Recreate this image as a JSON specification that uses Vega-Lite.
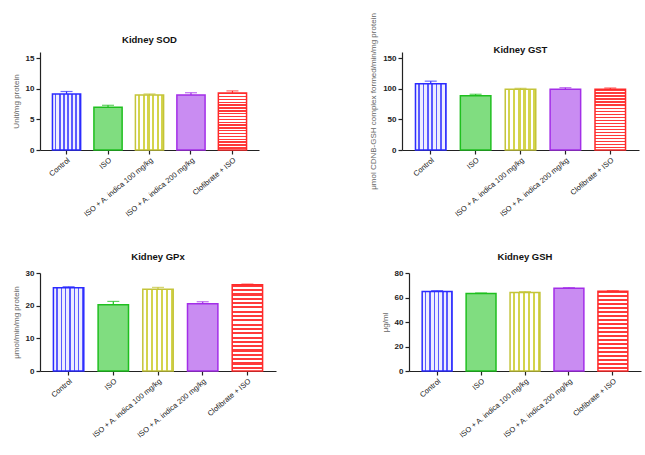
{
  "$schema": "https://vega.github.io/schema/vega-lite/v6.json",
  "padding": {"left": 12, "top": 12, "right": 2, "bottom": 2},
  "background": "white",
  "data": {"values": [
    {"assay": "SOD", "group": "Control", "mean": 9.15, "upper": 9.55},
    {"assay": "SOD", "group": "ISO", "mean": 7.0, "upper": 7.3},
    {"assay": "SOD", "group": "ISO + A. indica 100 mg/kg", "mean": 9.0, "upper": 9.15},
    {"assay": "SOD", "group": "ISO + A. indica 200 mg/kg", "mean": 9.0, "upper": 9.35},
    {"assay": "SOD", "group": "Clofibrate + ISO", "mean": 9.3, "upper": 9.65},
    {"assay": "GST", "group": "Control", "mean": 108.3, "upper": 112.4},
    {"assay": "GST", "group": "ISO", "mean": 88.5, "upper": 91.0},
    {"assay": "GST", "group": "ISO + A. indica 100 mg/kg", "mean": 99.1, "upper": 100.7},
    {"assay": "GST", "group": "ISO + A. indica 200 mg/kg", "mean": 99.1, "upper": 101.7},
    {"assay": "GST", "group": "Clofibrate + ISO", "mean": 99.1, "upper": 101.2},
    {"assay": "GPx", "group": "Control", "mean": 25.5, "upper": 25.8},
    {"assay": "GPx", "group": "ISO", "mean": 20.3, "upper": 21.3},
    {"assay": "GPx", "group": "ISO + A. indica 100 mg/kg", "mean": 25.0, "upper": 25.6},
    {"assay": "GPx", "group": "ISO + A. indica 200 mg/kg", "mean": 20.6, "upper": 21.2},
    {"assay": "GPx", "group": "Clofibrate + ISO", "mean": 26.4, "upper": 26.6},
    {"assay": "GSH", "group": "Control", "mean": 64.8, "upper": 65.6},
    {"assay": "GSH", "group": "ISO", "mean": 63.2, "upper": 63.7},
    {"assay": "GSH", "group": "ISO + A. indica 100 mg/kg", "mean": 64.0, "upper": 64.8},
    {"assay": "GSH", "group": "ISO + A. indica 200 mg/kg", "mean": 67.5, "upper": 68.1},
    {"assay": "GSH", "group": "Clofibrate + ISO", "mean": 65.1, "upper": 65.6}
  ]},
  "config": {
    "view": {"stroke": null},
    "axis": {"domainColor": "#222", "tickColor": "#222", "grid": false, "labelFont": "Liberation Sans", "titleFont": "Liberation Sans", "labelFontSize": 7.5, "labelColor": "#222", "domainWidth": 1.2, "tickWidth": 1.2, "tickSize": 4},
    "axisY": {"labelFontWeight": "bold", "labelFontSize": 8, "titleFontSize": 8, "titleColor": "#666", "titleFontWeight": "normal", "titlePadding": 5, "labelOverlap": false},
    "axisX": {"labelAngle": -40, "labelPadding": 2},
    "title": {"font": "Liberation Sans", "fontSize": 9.5, "fontWeight": "bold", "color": "#111", "offset": 8},
    "scale": {"bandPaddingInner": 0.32, "bandPaddingOuter": 0.3},
    "range": {"category": ["#2b2bff", "#1fbf1f", "#c4c43a", "#a32ee8", "#ff2a2a"]}
  },
  "vconcat": [
    {"hconcat": [
      {
        "title": "Kidney SOD", "width": 219, "height": 98,
        "transform": [{"filter": "datum.assay === 'SOD'"}],
        "encoding": {"x": {"field": "group", "type": "nominal", "title": null, "sort": ["Control", "ISO", "ISO + A. indica 100 mg/kg", "ISO + A. indica 200 mg/kg", "Clofibrate + ISO"]}},
        "layer": [
          {"mark": {"type": "bar", "strokeWidth": 1.5},
           "encoding": {
             "y": {"field": "mean", "type": "quantitative", "scale": {"domain": [0, 15]}, "axis": {"values": [0, 5, 10, 15]}, "title": "Unit/mg protein"},
             "fill": {"condition": [
               {"test": "datum.group === 'Control'", "value": {"gradient": "linear", "x1": 0, "y1": 0, "x2": 1, "y2": 0, "stops": [
                 {"offset": 0, "color": "#eeeeff"}, {"offset": 0.094, "color": "#eeeeff"}, {"offset": 0.094, "color": "#5a5aff"}, {"offset": 0.1429, "color": "#5a5aff"},
                 {"offset": 0.1429, "color": "#eeeeff"}, {"offset": 0.2372, "color": "#eeeeff"}, {"offset": 0.2372, "color": "#5a5aff"}, {"offset": 0.2857, "color": "#5a5aff"},
                 {"offset": 0.2857, "color": "#eeeeff"}, {"offset": 0.38, "color": "#eeeeff"}, {"offset": 0.38, "color": "#5a5aff"}, {"offset": 0.4286, "color": "#5a5aff"},
                 {"offset": 0.4286, "color": "#eeeeff"}, {"offset": 0.5229, "color": "#eeeeff"}, {"offset": 0.5229, "color": "#5a5aff"}, {"offset": 0.5714, "color": "#5a5aff"},
                 {"offset": 0.5714, "color": "#eeeeff"}, {"offset": 0.6657, "color": "#eeeeff"}, {"offset": 0.6657, "color": "#5a5aff"}, {"offset": 0.7143, "color": "#5a5aff"},
                 {"offset": 0.7143, "color": "#eeeeff"}, {"offset": 0.8086, "color": "#eeeeff"}, {"offset": 0.8086, "color": "#5a5aff"}, {"offset": 0.8571, "color": "#5a5aff"},
                 {"offset": 0.8571, "color": "#eeeeff"}, {"offset": 0.9514, "color": "#eeeeff"}, {"offset": 0.9514, "color": "#5a5aff"}, {"offset": 1, "color": "#5a5aff"}]}},
               {"test": "datum.group === 'ISO + A. indica 100 mg/kg'", "value": {"gradient": "linear", "x1": 0, "y1": 0, "x2": 1, "y2": 0, "stops": [
                 {"offset": 0, "color": "#ffffff"}, {"offset": 0.0917, "color": "#ffffff"}, {"offset": 0.0917, "color": "#d4d44c"}, {"offset": 0.1667, "color": "#d4d44c"},
                 {"offset": 0.1667, "color": "#ffffff"}, {"offset": 0.2583, "color": "#ffffff"}, {"offset": 0.2583, "color": "#d4d44c"}, {"offset": 0.3333, "color": "#d4d44c"},
                 {"offset": 0.3333, "color": "#ffffff"}, {"offset": 0.425, "color": "#ffffff"}, {"offset": 0.425, "color": "#d4d44c"}, {"offset": 0.5, "color": "#d4d44c"},
                 {"offset": 0.5, "color": "#ffffff"}, {"offset": 0.5917, "color": "#ffffff"}, {"offset": 0.5917, "color": "#d4d44c"}, {"offset": 0.6667, "color": "#d4d44c"},
                 {"offset": 0.6667, "color": "#ffffff"}, {"offset": 0.7583, "color": "#ffffff"}, {"offset": 0.7583, "color": "#d4d44c"}, {"offset": 0.8333, "color": "#d4d44c"},
                 {"offset": 0.8333, "color": "#ffffff"}, {"offset": 0.925, "color": "#ffffff"}, {"offset": 0.925, "color": "#d4d44c"}, {"offset": 1, "color": "#d4d44c"}]}},
               {"test": "datum.group === 'Clofibrate + ISO'", "value": {"gradient": "linear", "x1": 0, "y1": 0, "x2": 0, "y2": 1, "stops": [
                 {"offset": 0, "color": "#ff3a3a"}, {"offset": 0.025, "color": "#ff3a3a"}, {"offset": 0.025, "color": "#ffffff"}, {"offset": 0.05, "color": "#ffffff"},
                 {"offset": 0.05, "color": "#ff3a3a"}, {"offset": 0.075, "color": "#ff3a3a"}, {"offset": 0.075, "color": "#ffffff"}, {"offset": 0.1, "color": "#ffffff"},
                 {"offset": 0.1, "color": "#ff3a3a"}, {"offset": 0.125, "color": "#ff3a3a"}, {"offset": 0.125, "color": "#ffffff"}, {"offset": 0.15, "color": "#ffffff"},
                 {"offset": 0.15, "color": "#ff3a3a"}, {"offset": 0.175, "color": "#ff3a3a"}, {"offset": 0.175, "color": "#ffffff"}, {"offset": 0.2, "color": "#ffffff"},
                 {"offset": 0.2, "color": "#ff3a3a"}, {"offset": 0.225, "color": "#ff3a3a"}, {"offset": 0.225, "color": "#ffffff"}, {"offset": 0.25, "color": "#ffffff"},
                 {"offset": 0.25, "color": "#ff3a3a"}, {"offset": 0.275, "color": "#ff3a3a"}, {"offset": 0.275, "color": "#ffffff"}, {"offset": 0.3, "color": "#ffffff"},
                 {"offset": 0.3, "color": "#ff3a3a"}, {"offset": 0.325, "color": "#ff3a3a"}, {"offset": 0.325, "color": "#ffffff"}, {"offset": 0.35, "color": "#ffffff"},
                 {"offset": 0.35, "color": "#ff3a3a"}, {"offset": 0.375, "color": "#ff3a3a"}, {"offset": 0.375, "color": "#ffffff"}, {"offset": 0.4, "color": "#ffffff"},
                 {"offset": 0.4, "color": "#ff3a3a"}, {"offset": 0.425, "color": "#ff3a3a"}, {"offset": 0.425, "color": "#ffffff"}, {"offset": 0.45, "color": "#ffffff"},
                 {"offset": 0.45, "color": "#ff3a3a"}, {"offset": 0.475, "color": "#ff3a3a"}, {"offset": 0.475, "color": "#ffffff"}, {"offset": 0.5, "color": "#ffffff"},
                 {"offset": 0.5, "color": "#ff3a3a"}, {"offset": 0.525, "color": "#ff3a3a"}, {"offset": 0.525, "color": "#ffffff"}, {"offset": 0.55, "color": "#ffffff"},
                 {"offset": 0.55, "color": "#ff3a3a"}, {"offset": 0.575, "color": "#ff3a3a"}, {"offset": 0.575, "color": "#ffffff"}, {"offset": 0.6, "color": "#ffffff"},
                 {"offset": 0.6, "color": "#ff3a3a"}, {"offset": 0.625, "color": "#ff3a3a"}, {"offset": 0.625, "color": "#ffffff"}, {"offset": 0.65, "color": "#ffffff"},
                 {"offset": 0.65, "color": "#ff3a3a"}, {"offset": 0.675, "color": "#ff3a3a"}, {"offset": 0.675, "color": "#ffffff"}, {"offset": 0.7, "color": "#ffffff"},
                 {"offset": 0.7, "color": "#ff3a3a"}, {"offset": 0.725, "color": "#ff3a3a"}, {"offset": 0.725, "color": "#ffffff"}, {"offset": 0.75, "color": "#ffffff"},
                 {"offset": 0.75, "color": "#ff3a3a"}, {"offset": 0.775, "color": "#ff3a3a"}, {"offset": 0.775, "color": "#ffffff"}, {"offset": 0.8, "color": "#ffffff"},
                 {"offset": 0.8, "color": "#ff3a3a"}, {"offset": 0.825, "color": "#ff3a3a"}, {"offset": 0.825, "color": "#ffffff"}, {"offset": 0.85, "color": "#ffffff"},
                 {"offset": 0.85, "color": "#ff3a3a"}, {"offset": 0.875, "color": "#ff3a3a"}, {"offset": 0.875, "color": "#ffffff"}, {"offset": 0.9, "color": "#ffffff"},
                 {"offset": 0.9, "color": "#ff3a3a"}, {"offset": 0.925, "color": "#ff3a3a"}, {"offset": 0.925, "color": "#ffffff"}, {"offset": 0.95, "color": "#ffffff"},
                 {"offset": 0.95, "color": "#ff3a3a"}, {"offset": 0.975, "color": "#ff3a3a"}, {"offset": 0.975, "color": "#ffffff"}, {"offset": 1, "color": "#ffffff"}]}},
               {"test": "datum.group === 'ISO'", "value": "#80dd80"}
             ], "value": "#c98cf2"},
             "stroke": {"field": "group", "type": "nominal", "legend": null, "scale": {"domain": ["Control", "ISO", "ISO + A. indica 100 mg/kg", "ISO + A. indica 200 mg/kg", "Clofibrate + ISO"]}}
           }},
          {"mark": {"type": "rule", "strokeWidth": 1.2},
           "encoding": {"y": {"field": "mean", "type": "quantitative", "axis": {"values": [0, 5, 10, 15]}, "title": "Unit/mg protein"}, "y2": {"field": "upper"}, "stroke": {"field": "group", "type": "nominal", "legend": null}}},
          {"mark": {"type": "tick", "size": 12, "thickness": 1.2},
           "encoding": {"y": {"field": "upper", "type": "quantitative", "axis": {"values": [0, 5, 10, 15]}, "title": "Unit/mg protein"}, "color": {"field": "group", "type": "nominal", "legend": null, "scale": {"domain": ["Control", "ISO", "ISO + A. indica 100 mg/kg", "ISO + A. indica 200 mg/kg", "Clofibrate + ISO"]}}}}
        ]
      },
      {
        "title": {"text": "Kidney GST", "offset": -42}, "width": 237, "height": 98,
        "transform": [{"filter": "datum.assay === 'GST'"}],
        "encoding": {"x": {"field": "group", "type": "nominal", "title": null, "sort": ["Control", "ISO", "ISO + A. indica 100 mg/kg", "ISO + A. indica 200 mg/kg", "Clofibrate + ISO"]}},
        "layer": [
          {"mark": {"type": "bar", "strokeWidth": 1.5},
           "encoding": {
             "y": {"field": "mean", "type": "quantitative", "scale": {"domain": [0, 150]}, "axis": {"values": [0, 50, 100, 150]}, "title": "μmol CDNB-GSH complex formed/min/mg protein"},
             "fill": {"condition": [
               {"test": "datum.group === 'Control'", "value": {"gradient": "linear", "x1": 0, "y1": 0, "x2": 1, "y2": 0, "stops": [
                 {"offset": 0, "color": "#eeeeff"}, {"offset": 0.094, "color": "#eeeeff"}, {"offset": 0.094, "color": "#5a5aff"}, {"offset": 0.1429, "color": "#5a5aff"},
                 {"offset": 0.1429, "color": "#eeeeff"}, {"offset": 0.2372, "color": "#eeeeff"}, {"offset": 0.2372, "color": "#5a5aff"}, {"offset": 0.2857, "color": "#5a5aff"},
                 {"offset": 0.2857, "color": "#eeeeff"}, {"offset": 0.38, "color": "#eeeeff"}, {"offset": 0.38, "color": "#5a5aff"}, {"offset": 0.4286, "color": "#5a5aff"},
                 {"offset": 0.4286, "color": "#eeeeff"}, {"offset": 0.5229, "color": "#eeeeff"}, {"offset": 0.5229, "color": "#5a5aff"}, {"offset": 0.5714, "color": "#5a5aff"},
                 {"offset": 0.5714, "color": "#eeeeff"}, {"offset": 0.6657, "color": "#eeeeff"}, {"offset": 0.6657, "color": "#5a5aff"}, {"offset": 0.7143, "color": "#5a5aff"},
                 {"offset": 0.7143, "color": "#eeeeff"}, {"offset": 0.8086, "color": "#eeeeff"}, {"offset": 0.8086, "color": "#5a5aff"}, {"offset": 0.8571, "color": "#5a5aff"},
                 {"offset": 0.8571, "color": "#eeeeff"}, {"offset": 0.9514, "color": "#eeeeff"}, {"offset": 0.9514, "color": "#5a5aff"}, {"offset": 1, "color": "#5a5aff"}]}},
               {"test": "datum.group === 'ISO + A. indica 100 mg/kg'", "value": {"gradient": "linear", "x1": 0, "y1": 0, "x2": 1, "y2": 0, "stops": [
                 {"offset": 0, "color": "#ffffff"}, {"offset": 0.0917, "color": "#ffffff"}, {"offset": 0.0917, "color": "#d4d44c"}, {"offset": 0.1667, "color": "#d4d44c"},
                 {"offset": 0.1667, "color": "#ffffff"}, {"offset": 0.2583, "color": "#ffffff"}, {"offset": 0.2583, "color": "#d4d44c"}, {"offset": 0.3333, "color": "#d4d44c"},
                 {"offset": 0.3333, "color": "#ffffff"}, {"offset": 0.425, "color": "#ffffff"}, {"offset": 0.425, "color": "#d4d44c"}, {"offset": 0.5, "color": "#d4d44c"},
                 {"offset": 0.5, "color": "#ffffff"}, {"offset": 0.5917, "color": "#ffffff"}, {"offset": 0.5917, "color": "#d4d44c"}, {"offset": 0.6667, "color": "#d4d44c"},
                 {"offset": 0.6667, "color": "#ffffff"}, {"offset": 0.7583, "color": "#ffffff"}, {"offset": 0.7583, "color": "#d4d44c"}, {"offset": 0.8333, "color": "#d4d44c"},
                 {"offset": 0.8333, "color": "#ffffff"}, {"offset": 0.925, "color": "#ffffff"}, {"offset": 0.925, "color": "#d4d44c"}, {"offset": 1, "color": "#d4d44c"}]}},
               {"test": "datum.group === 'Clofibrate + ISO'", "value": {"gradient": "linear", "x1": 0, "y1": 0, "x2": 0, "y2": 1, "stops": [
                 {"offset": 0, "color": "#ff3a3a"}, {"offset": 0.025, "color": "#ff3a3a"}, {"offset": 0.025, "color": "#ffffff"}, {"offset": 0.05, "color": "#ffffff"},
                 {"offset": 0.05, "color": "#ff3a3a"}, {"offset": 0.075, "color": "#ff3a3a"}, {"offset": 0.075, "color": "#ffffff"}, {"offset": 0.1, "color": "#ffffff"},
                 {"offset": 0.1, "color": "#ff3a3a"}, {"offset": 0.125, "color": "#ff3a3a"}, {"offset": 0.125, "color": "#ffffff"}, {"offset": 0.15, "color": "#ffffff"},
                 {"offset": 0.15, "color": "#ff3a3a"}, {"offset": 0.175, "color": "#ff3a3a"}, {"offset": 0.175, "color": "#ffffff"}, {"offset": 0.2, "color": "#ffffff"},
                 {"offset": 0.2, "color": "#ff3a3a"}, {"offset": 0.225, "color": "#ff3a3a"}, {"offset": 0.225, "color": "#ffffff"}, {"offset": 0.25, "color": "#ffffff"},
                 {"offset": 0.25, "color": "#ff3a3a"}, {"offset": 0.275, "color": "#ff3a3a"}, {"offset": 0.275, "color": "#ffffff"}, {"offset": 0.3, "color": "#ffffff"},
                 {"offset": 0.3, "color": "#ff3a3a"}, {"offset": 0.325, "color": "#ff3a3a"}, {"offset": 0.325, "color": "#ffffff"}, {"offset": 0.35, "color": "#ffffff"},
                 {"offset": 0.35, "color": "#ff3a3a"}, {"offset": 0.375, "color": "#ff3a3a"}, {"offset": 0.375, "color": "#ffffff"}, {"offset": 0.4, "color": "#ffffff"},
                 {"offset": 0.4, "color": "#ff3a3a"}, {"offset": 0.425, "color": "#ff3a3a"}, {"offset": 0.425, "color": "#ffffff"}, {"offset": 0.45, "color": "#ffffff"},
                 {"offset": 0.45, "color": "#ff3a3a"}, {"offset": 0.475, "color": "#ff3a3a"}, {"offset": 0.475, "color": "#ffffff"}, {"offset": 0.5, "color": "#ffffff"},
                 {"offset": 0.5, "color": "#ff3a3a"}, {"offset": 0.525, "color": "#ff3a3a"}, {"offset": 0.525, "color": "#ffffff"}, {"offset": 0.55, "color": "#ffffff"},
                 {"offset": 0.55, "color": "#ff3a3a"}, {"offset": 0.575, "color": "#ff3a3a"}, {"offset": 0.575, "color": "#ffffff"}, {"offset": 0.6, "color": "#ffffff"},
                 {"offset": 0.6, "color": "#ff3a3a"}, {"offset": 0.625, "color": "#ff3a3a"}, {"offset": 0.625, "color": "#ffffff"}, {"offset": 0.65, "color": "#ffffff"},
                 {"offset": 0.65, "color": "#ff3a3a"}, {"offset": 0.675, "color": "#ff3a3a"}, {"offset": 0.675, "color": "#ffffff"}, {"offset": 0.7, "color": "#ffffff"},
                 {"offset": 0.7, "color": "#ff3a3a"}, {"offset": 0.725, "color": "#ff3a3a"}, {"offset": 0.725, "color": "#ffffff"}, {"offset": 0.75, "color": "#ffffff"},
                 {"offset": 0.75, "color": "#ff3a3a"}, {"offset": 0.775, "color": "#ff3a3a"}, {"offset": 0.775, "color": "#ffffff"}, {"offset": 0.8, "color": "#ffffff"},
                 {"offset": 0.8, "color": "#ff3a3a"}, {"offset": 0.825, "color": "#ff3a3a"}, {"offset": 0.825, "color": "#ffffff"}, {"offset": 0.85, "color": "#ffffff"},
                 {"offset": 0.85, "color": "#ff3a3a"}, {"offset": 0.875, "color": "#ff3a3a"}, {"offset": 0.875, "color": "#ffffff"}, {"offset": 0.9, "color": "#ffffff"},
                 {"offset": 0.9, "color": "#ff3a3a"}, {"offset": 0.925, "color": "#ff3a3a"}, {"offset": 0.925, "color": "#ffffff"}, {"offset": 0.95, "color": "#ffffff"},
                 {"offset": 0.95, "color": "#ff3a3a"}, {"offset": 0.975, "color": "#ff3a3a"}, {"offset": 0.975, "color": "#ffffff"}, {"offset": 1, "color": "#ffffff"}]}},
               {"test": "datum.group === 'ISO'", "value": "#80dd80"}
             ], "value": "#c98cf2"},
             "stroke": {"field": "group", "type": "nominal", "legend": null}
           }},
          {"mark": {"type": "rule", "strokeWidth": 1.2},
           "encoding": {"y": {"field": "mean", "type": "quantitative", "axis": {"values": [0, 50, 100, 150]}, "title": "μmol CDNB-GSH complex formed/min/mg protein"}, "y2": {"field": "upper"}, "stroke": {"field": "group", "type": "nominal", "legend": null}}},
          {"mark": {"type": "tick", "size": 12, "thickness": 1.2},
           "encoding": {"y": {"field": "upper", "type": "quantitative", "axis": {"values": [0, 50, 100, 150]}, "title": "μmol CDNB-GSH complex formed/min/mg protein"}, "color": {"field": "group", "type": "nominal", "legend": null}}}
        ]
      }
    ], "spacing": 110},
    {"hconcat": [
      {
        "title": "Kidney GPx", "width": 236, "height": 98,
        "transform": [{"filter": "datum.assay === 'GPx'"}],
        "encoding": {"x": {"field": "group", "type": "nominal", "title": null, "sort": ["Control", "ISO", "ISO + A. indica 100 mg/kg", "ISO + A. indica 200 mg/kg", "Clofibrate + ISO"]}},
        "layer": [
          {"mark": {"type": "bar", "strokeWidth": 1.5},
           "encoding": {
             "y": {"field": "mean", "type": "quantitative", "scale": {"domain": [0, 30]}, "axis": {"values": [0, 10, 20, 30]}, "title": "μmol/min/mg protein"},
             "fill": {"condition": [
               {"test": "datum.group === 'Control'", "value": {"gradient": "linear", "x1": 0, "y1": 0, "x2": 1, "y2": 0, "stops": [
                 {"offset": 0, "color": "#eeeeff"}, {"offset": 0.094, "color": "#eeeeff"}, {"offset": 0.094, "color": "#5a5aff"}, {"offset": 0.1429, "color": "#5a5aff"},
                 {"offset": 0.1429, "color": "#eeeeff"}, {"offset": 0.2372, "color": "#eeeeff"}, {"offset": 0.2372, "color": "#5a5aff"}, {"offset": 0.2857, "color": "#5a5aff"},
                 {"offset": 0.2857, "color": "#eeeeff"}, {"offset": 0.38, "color": "#eeeeff"}, {"offset": 0.38, "color": "#5a5aff"}, {"offset": 0.4286, "color": "#5a5aff"},
                 {"offset": 0.4286, "color": "#eeeeff"}, {"offset": 0.5229, "color": "#eeeeff"}, {"offset": 0.5229, "color": "#5a5aff"}, {"offset": 0.5714, "color": "#5a5aff"},
                 {"offset": 0.5714, "color": "#eeeeff"}, {"offset": 0.6657, "color": "#eeeeff"}, {"offset": 0.6657, "color": "#5a5aff"}, {"offset": 0.7143, "color": "#5a5aff"},
                 {"offset": 0.7143, "color": "#eeeeff"}, {"offset": 0.8086, "color": "#eeeeff"}, {"offset": 0.8086, "color": "#5a5aff"}, {"offset": 0.8571, "color": "#5a5aff"},
                 {"offset": 0.8571, "color": "#eeeeff"}, {"offset": 0.9514, "color": "#eeeeff"}, {"offset": 0.9514, "color": "#5a5aff"}, {"offset": 1, "color": "#5a5aff"}]}},
               {"test": "datum.group === 'ISO + A. indica 100 mg/kg'", "value": {"gradient": "linear", "x1": 0, "y1": 0, "x2": 1, "y2": 0, "stops": [
                 {"offset": 0, "color": "#ffffff"}, {"offset": 0.0917, "color": "#ffffff"}, {"offset": 0.0917, "color": "#d4d44c"}, {"offset": 0.1667, "color": "#d4d44c"},
                 {"offset": 0.1667, "color": "#ffffff"}, {"offset": 0.2583, "color": "#ffffff"}, {"offset": 0.2583, "color": "#d4d44c"}, {"offset": 0.3333, "color": "#d4d44c"},
                 {"offset": 0.3333, "color": "#ffffff"}, {"offset": 0.425, "color": "#ffffff"}, {"offset": 0.425, "color": "#d4d44c"}, {"offset": 0.5, "color": "#d4d44c"},
                 {"offset": 0.5, "color": "#ffffff"}, {"offset": 0.5917, "color": "#ffffff"}, {"offset": 0.5917, "color": "#d4d44c"}, {"offset": 0.6667, "color": "#d4d44c"},
                 {"offset": 0.6667, "color": "#ffffff"}, {"offset": 0.7583, "color": "#ffffff"}, {"offset": 0.7583, "color": "#d4d44c"}, {"offset": 0.8333, "color": "#d4d44c"},
                 {"offset": 0.8333, "color": "#ffffff"}, {"offset": 0.925, "color": "#ffffff"}, {"offset": 0.925, "color": "#d4d44c"}, {"offset": 1, "color": "#d4d44c"}]}},
               {"test": "datum.group === 'Clofibrate + ISO'", "value": {"gradient": "linear", "x1": 0, "y1": 0, "x2": 0, "y2": 1, "stops": [
                 {"offset": 0, "color": "#ff3a3a"}, {"offset": 0.025, "color": "#ff3a3a"}, {"offset": 0.025, "color": "#ffffff"}, {"offset": 0.05, "color": "#ffffff"},
                 {"offset": 0.05, "color": "#ff3a3a"}, {"offset": 0.075, "color": "#ff3a3a"}, {"offset": 0.075, "color": "#ffffff"}, {"offset": 0.1, "color": "#ffffff"},
                 {"offset": 0.1, "color": "#ff3a3a"}, {"offset": 0.125, "color": "#ff3a3a"}, {"offset": 0.125, "color": "#ffffff"}, {"offset": 0.15, "color": "#ffffff"},
                 {"offset": 0.15, "color": "#ff3a3a"}, {"offset": 0.175, "color": "#ff3a3a"}, {"offset": 0.175, "color": "#ffffff"}, {"offset": 0.2, "color": "#ffffff"},
                 {"offset": 0.2, "color": "#ff3a3a"}, {"offset": 0.225, "color": "#ff3a3a"}, {"offset": 0.225, "color": "#ffffff"}, {"offset": 0.25, "color": "#ffffff"},
                 {"offset": 0.25, "color": "#ff3a3a"}, {"offset": 0.275, "color": "#ff3a3a"}, {"offset": 0.275, "color": "#ffffff"}, {"offset": 0.3, "color": "#ffffff"},
                 {"offset": 0.3, "color": "#ff3a3a"}, {"offset": 0.325, "color": "#ff3a3a"}, {"offset": 0.325, "color": "#ffffff"}, {"offset": 0.35, "color": "#ffffff"},
                 {"offset": 0.35, "color": "#ff3a3a"}, {"offset": 0.375, "color": "#ff3a3a"}, {"offset": 0.375, "color": "#ffffff"}, {"offset": 0.4, "color": "#ffffff"},
                 {"offset": 0.4, "color": "#ff3a3a"}, {"offset": 0.425, "color": "#ff3a3a"}, {"offset": 0.425, "color": "#ffffff"}, {"offset": 0.45, "color": "#ffffff"},
                 {"offset": 0.45, "color": "#ff3a3a"}, {"offset": 0.475, "color": "#ff3a3a"}, {"offset": 0.475, "color": "#ffffff"}, {"offset": 0.5, "color": "#ffffff"},
                 {"offset": 0.5, "color": "#ff3a3a"}, {"offset": 0.525, "color": "#ff3a3a"}, {"offset": 0.525, "color": "#ffffff"}, {"offset": 0.55, "color": "#ffffff"},
                 {"offset": 0.55, "color": "#ff3a3a"}, {"offset": 0.575, "color": "#ff3a3a"}, {"offset": 0.575, "color": "#ffffff"}, {"offset": 0.6, "color": "#ffffff"},
                 {"offset": 0.6, "color": "#ff3a3a"}, {"offset": 0.625, "color": "#ff3a3a"}, {"offset": 0.625, "color": "#ffffff"}, {"offset": 0.65, "color": "#ffffff"},
                 {"offset": 0.65, "color": "#ff3a3a"}, {"offset": 0.675, "color": "#ff3a3a"}, {"offset": 0.675, "color": "#ffffff"}, {"offset": 0.7, "color": "#ffffff"},
                 {"offset": 0.7, "color": "#ff3a3a"}, {"offset": 0.725, "color": "#ff3a3a"}, {"offset": 0.725, "color": "#ffffff"}, {"offset": 0.75, "color": "#ffffff"},
                 {"offset": 0.75, "color": "#ff3a3a"}, {"offset": 0.775, "color": "#ff3a3a"}, {"offset": 0.775, "color": "#ffffff"}, {"offset": 0.8, "color": "#ffffff"},
                 {"offset": 0.8, "color": "#ff3a3a"}, {"offset": 0.825, "color": "#ff3a3a"}, {"offset": 0.825, "color": "#ffffff"}, {"offset": 0.85, "color": "#ffffff"},
                 {"offset": 0.85, "color": "#ff3a3a"}, {"offset": 0.875, "color": "#ff3a3a"}, {"offset": 0.875, "color": "#ffffff"}, {"offset": 0.9, "color": "#ffffff"},
                 {"offset": 0.9, "color": "#ff3a3a"}, {"offset": 0.925, "color": "#ff3a3a"}, {"offset": 0.925, "color": "#ffffff"}, {"offset": 0.95, "color": "#ffffff"},
                 {"offset": 0.95, "color": "#ff3a3a"}, {"offset": 0.975, "color": "#ff3a3a"}, {"offset": 0.975, "color": "#ffffff"}, {"offset": 1, "color": "#ffffff"}]}},
               {"test": "datum.group === 'ISO'", "value": "#80dd80"}
             ], "value": "#c98cf2"},
             "stroke": {"field": "group", "type": "nominal", "legend": null}
           }},
          {"mark": {"type": "rule", "strokeWidth": 1.2},
           "encoding": {"y": {"field": "mean", "type": "quantitative", "axis": {"values": [0, 10, 20, 30]}, "title": "μmol/min/mg protein"}, "y2": {"field": "upper"}, "stroke": {"field": "group", "type": "nominal", "legend": null}}},
          {"mark": {"type": "tick", "size": 12, "thickness": 1.2},
           "encoding": {"y": {"field": "upper", "type": "quantitative", "axis": {"values": [0, 10, 20, 30]}, "title": "μmol/min/mg protein"}, "color": {"field": "group", "type": "nominal", "legend": null}}}
        ]
      },
      {
        "title": "Kidney GSH", "width": 232, "height": 98,
        "transform": [{"filter": "datum.assay === 'GSH'"}],
        "encoding": {"x": {"field": "group", "type": "nominal", "title": null, "sort": ["Control", "ISO", "ISO + A. indica 100 mg/kg", "ISO + A. indica 200 mg/kg", "Clofibrate + ISO"]}},
        "layer": [
          {"mark": {"type": "bar", "strokeWidth": 1.5},
           "encoding": {
             "y": {"field": "mean", "type": "quantitative", "scale": {"domain": [0, 80]}, "axis": {"values": [0, 20, 40, 60, 80]}, "title": "μg/ml"},
             "fill": {"condition": [
               {"test": "datum.group === 'Control'", "value": {"gradient": "linear", "x1": 0, "y1": 0, "x2": 1, "y2": 0, "stops": [
                 {"offset": 0, "color": "#eeeeff"}, {"offset": 0.094, "color": "#eeeeff"}, {"offset": 0.094, "color": "#5a5aff"}, {"offset": 0.1429, "color": "#5a5aff"},
                 {"offset": 0.1429, "color": "#eeeeff"}, {"offset": 0.2372, "color": "#eeeeff"}, {"offset": 0.2372, "color": "#5a5aff"}, {"offset": 0.2857, "color": "#5a5aff"},
                 {"offset": 0.2857, "color": "#eeeeff"}, {"offset": 0.38, "color": "#eeeeff"}, {"offset": 0.38, "color": "#5a5aff"}, {"offset": 0.4286, "color": "#5a5aff"},
                 {"offset": 0.4286, "color": "#eeeeff"}, {"offset": 0.5229, "color": "#eeeeff"}, {"offset": 0.5229, "color": "#5a5aff"}, {"offset": 0.5714, "color": "#5a5aff"},
                 {"offset": 0.5714, "color": "#eeeeff"}, {"offset": 0.6657, "color": "#eeeeff"}, {"offset": 0.6657, "color": "#5a5aff"}, {"offset": 0.7143, "color": "#5a5aff"},
                 {"offset": 0.7143, "color": "#eeeeff"}, {"offset": 0.8086, "color": "#eeeeff"}, {"offset": 0.8086, "color": "#5a5aff"}, {"offset": 0.8571, "color": "#5a5aff"},
                 {"offset": 0.8571, "color": "#eeeeff"}, {"offset": 0.9514, "color": "#eeeeff"}, {"offset": 0.9514, "color": "#5a5aff"}, {"offset": 1, "color": "#5a5aff"}]}},
               {"test": "datum.group === 'ISO + A. indica 100 mg/kg'", "value": {"gradient": "linear", "x1": 0, "y1": 0, "x2": 1, "y2": 0, "stops": [
                 {"offset": 0, "color": "#ffffff"}, {"offset": 0.0917, "color": "#ffffff"}, {"offset": 0.0917, "color": "#d4d44c"}, {"offset": 0.1667, "color": "#d4d44c"},
                 {"offset": 0.1667, "color": "#ffffff"}, {"offset": 0.2583, "color": "#ffffff"}, {"offset": 0.2583, "color": "#d4d44c"}, {"offset": 0.3333, "color": "#d4d44c"},
                 {"offset": 0.3333, "color": "#ffffff"}, {"offset": 0.425, "color": "#ffffff"}, {"offset": 0.425, "color": "#d4d44c"}, {"offset": 0.5, "color": "#d4d44c"},
                 {"offset": 0.5, "color": "#ffffff"}, {"offset": 0.5917, "color": "#ffffff"}, {"offset": 0.5917, "color": "#d4d44c"}, {"offset": 0.6667, "color": "#d4d44c"},
                 {"offset": 0.6667, "color": "#ffffff"}, {"offset": 0.7583, "color": "#ffffff"}, {"offset": 0.7583, "color": "#d4d44c"}, {"offset": 0.8333, "color": "#d4d44c"},
                 {"offset": 0.8333, "color": "#ffffff"}, {"offset": 0.925, "color": "#ffffff"}, {"offset": 0.925, "color": "#d4d44c"}, {"offset": 1, "color": "#d4d44c"}]}},
               {"test": "datum.group === 'Clofibrate + ISO'", "value": {"gradient": "linear", "x1": 0, "y1": 0, "x2": 0, "y2": 1, "stops": [
                 {"offset": 0, "color": "#ff3a3a"}, {"offset": 0.025, "color": "#ff3a3a"}, {"offset": 0.025, "color": "#ffffff"}, {"offset": 0.05, "color": "#ffffff"},
                 {"offset": 0.05, "color": "#ff3a3a"}, {"offset": 0.075, "color": "#ff3a3a"}, {"offset": 0.075, "color": "#ffffff"}, {"offset": 0.1, "color": "#ffffff"},
                 {"offset": 0.1, "color": "#ff3a3a"}, {"offset": 0.125, "color": "#ff3a3a"}, {"offset": 0.125, "color": "#ffffff"}, {"offset": 0.15, "color": "#ffffff"},
                 {"offset": 0.15, "color": "#ff3a3a"}, {"offset": 0.175, "color": "#ff3a3a"}, {"offset": 0.175, "color": "#ffffff"}, {"offset": 0.2, "color": "#ffffff"},
                 {"offset": 0.2, "color": "#ff3a3a"}, {"offset": 0.225, "color": "#ff3a3a"}, {"offset": 0.225, "color": "#ffffff"}, {"offset": 0.25, "color": "#ffffff"},
                 {"offset": 0.25, "color": "#ff3a3a"}, {"offset": 0.275, "color": "#ff3a3a"}, {"offset": 0.275, "color": "#ffffff"}, {"offset": 0.3, "color": "#ffffff"},
                 {"offset": 0.3, "color": "#ff3a3a"}, {"offset": 0.325, "color": "#ff3a3a"}, {"offset": 0.325, "color": "#ffffff"}, {"offset": 0.35, "color": "#ffffff"},
                 {"offset": 0.35, "color": "#ff3a3a"}, {"offset": 0.375, "color": "#ff3a3a"}, {"offset": 0.375, "color": "#ffffff"}, {"offset": 0.4, "color": "#ffffff"},
                 {"offset": 0.4, "color": "#ff3a3a"}, {"offset": 0.425, "color": "#ff3a3a"}, {"offset": 0.425, "color": "#ffffff"}, {"offset": 0.45, "color": "#ffffff"},
                 {"offset": 0.45, "color": "#ff3a3a"}, {"offset": 0.475, "color": "#ff3a3a"}, {"offset": 0.475, "color": "#ffffff"}, {"offset": 0.5, "color": "#ffffff"},
                 {"offset": 0.5, "color": "#ff3a3a"}, {"offset": 0.525, "color": "#ff3a3a"}, {"offset": 0.525, "color": "#ffffff"}, {"offset": 0.55, "color": "#ffffff"},
                 {"offset": 0.55, "color": "#ff3a3a"}, {"offset": 0.575, "color": "#ff3a3a"}, {"offset": 0.575, "color": "#ffffff"}, {"offset": 0.6, "color": "#ffffff"},
                 {"offset": 0.6, "color": "#ff3a3a"}, {"offset": 0.625, "color": "#ff3a3a"}, {"offset": 0.625, "color": "#ffffff"}, {"offset": 0.65, "color": "#ffffff"},
                 {"offset": 0.65, "color": "#ff3a3a"}, {"offset": 0.675, "color": "#ff3a3a"}, {"offset": 0.675, "color": "#ffffff"}, {"offset": 0.7, "color": "#ffffff"},
                 {"offset": 0.7, "color": "#ff3a3a"}, {"offset": 0.725, "color": "#ff3a3a"}, {"offset": 0.725, "color": "#ffffff"}, {"offset": 0.75, "color": "#ffffff"},
                 {"offset": 0.75, "color": "#ff3a3a"}, {"offset": 0.775, "color": "#ff3a3a"}, {"offset": 0.775, "color": "#ffffff"}, {"offset": 0.8, "color": "#ffffff"},
                 {"offset": 0.8, "color": "#ff3a3a"}, {"offset": 0.825, "color": "#ff3a3a"}, {"offset": 0.825, "color": "#ffffff"}, {"offset": 0.85, "color": "#ffffff"},
                 {"offset": 0.85, "color": "#ff3a3a"}, {"offset": 0.875, "color": "#ff3a3a"}, {"offset": 0.875, "color": "#ffffff"}, {"offset": 0.9, "color": "#ffffff"},
                 {"offset": 0.9, "color": "#ff3a3a"}, {"offset": 0.925, "color": "#ff3a3a"}, {"offset": 0.925, "color": "#ffffff"}, {"offset": 0.95, "color": "#ffffff"},
                 {"offset": 0.95, "color": "#ff3a3a"}, {"offset": 0.975, "color": "#ff3a3a"}, {"offset": 0.975, "color": "#ffffff"}, {"offset": 1, "color": "#ffffff"}]}},
               {"test": "datum.group === 'ISO'", "value": "#80dd80"}
             ], "value": "#c98cf2"},
             "stroke": {"field": "group", "type": "nominal", "legend": null}
           }},
          {"mark": {"type": "rule", "strokeWidth": 1.2},
           "encoding": {"y": {"field": "mean", "type": "quantitative", "axis": {"values": [0, 20, 40, 60, 80]}, "title": "μg/ml"}, "y2": {"field": "upper"}, "stroke": {"field": "group", "type": "nominal", "legend": null}}},
          {"mark": {"type": "tick", "size": 12, "thickness": 1.2},
           "encoding": {"y": {"field": "upper", "type": "quantitative", "axis": {"values": [0, 20, 40, 60, 80]}, "title": "μg/ml"}, "color": {"field": "group", "type": "nominal", "legend": null}}}
        ]
      }
    ], "spacing": 105}
  ],
  "spacing": 33
}
